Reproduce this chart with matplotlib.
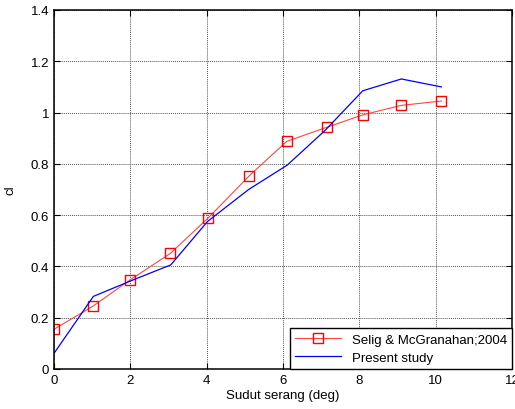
import matplotlib
matplotlib.use("Agg")
import matplotlib.pyplot as plt

# Selig & McGranahan (2004) data
x_selig = [0.0, 1.01, 2.0, 3.05, 4.04, 5.12, 6.1, 7.14, 8.09, 9.1, 10.15]
cl_selig = [0.155, 0.244, 0.348, 0.451, 0.589, 0.754, 0.888, 0.942, 0.991, 1.028, 1.045]

# present study
x_present = [0.0, 1.03, 2.0, 3.06, 4.02, 5.1, 6.11, 7.1, 8.09, 9.1, 10.15]
cl_present = [0.061, 0.283, 0.343, 0.406, 0.575, 0.70, 0.795, 0.93, 1.085, 1.131, 1.10]

plt.rcParams["font.family"] = ["Liberation Sans", "DejaVu Sans"]

fig = plt.figure(figsize=(5.15, 4.10), dpi=100)
ax = fig.add_axes([0.1049, 0.0976, 0.8893, 0.8756])

ax.plot(x_selig, cl_selig, color="#ff4444", lw=0.8, marker="s", ms=6.5,
        mfc="none", mec="red", mew=1.0, label="Selig & McGranahan;2004")
ax.plot(x_present, cl_present, color="blue", lw=0.9, label="Present study")

ax.set_xlim(0, 12)
ax.set_ylim(0, 1.4)
ax.set_xticks(range(0, 13, 2))
ax.set_yticks([0, 0.2, 0.4, 0.6, 0.8, 1, 1.2, 1.4])
ax.set_yticklabels(["0", "0.2", "0.4", "0.6", "0.8", "1", "1.2", "1.4"])
ax.grid(True, color="#555555", ls=(0, (1, 1)), lw=0.7)
ax.tick_params(direction="in", top=True, right=True, labelsize=9.5, length=4)
for s in ax.spines.values():
    s.set_linewidth(1.1)

ax.set_xlabel("Sudut serang (deg)", fontsize=9.5, labelpad=2)
ax.set_ylabel("cl", fontsize=9.5, labelpad=10)

leg = ax.legend(loc="lower right", fontsize=9.5, fancybox=False, framealpha=1,
                edgecolor="black", borderaxespad=0, handlelength=3.5,
                borderpad=0.4, labelspacing=0.45)
leg.get_frame().set_linewidth(1.0)

fig.savefig("out.png", dpi=100)
